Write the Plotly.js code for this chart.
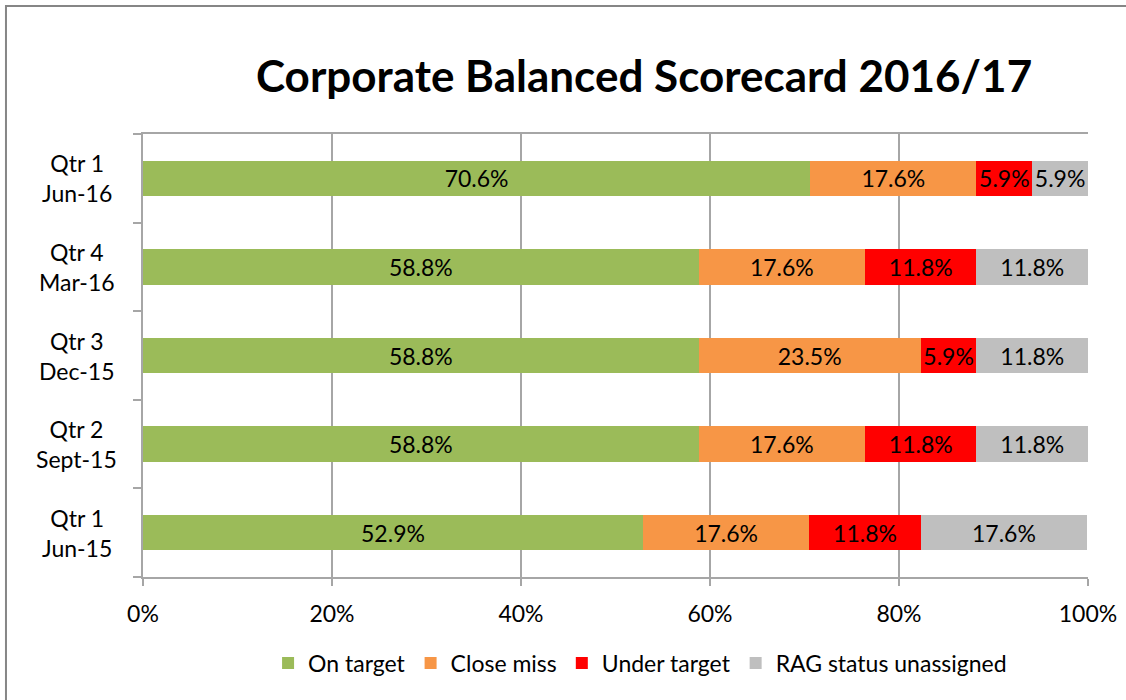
<!DOCTYPE html>
<html>
<head>
<meta charset="utf-8">
<script src="https://cdn.plot.ly/plotly-3.0.1.min.js"></script>
<style>html,body{margin:0;padding:0;background:#fff;}#chart{width:1126px;height:700px;}</style>
</head>
<body>
<div id="chart"></div>
<script>
const categories = ["Qtr 1<br>Jun-15", "Qtr 2<br>Sept-15", "Qtr 3<br>Dec-15", "Qtr 4<br>Mar-16", "Qtr 1<br>Jun-16"];
const onTarget = [52.9, 58.8, 58.8, 58.8, 70.6];
const closeMiss = [17.6, 17.6, 23.5, 17.6, 17.6];
const underTarget = [11.8, 11.8, 5.9, 11.8, 5.9];
const unassigned = [17.6, 11.8, 11.8, 11.8, 5.9];
const seriesNames = ["On target", "Close miss", "Under target", "RAG status unassigned"];
const seriesColors = ["#9BBB59", "#F79646", "#FF0000", "#BFBFBF"];
const xTicks = [0, 20, 40, 60, 80, 100];

const FONT = "Lato, 'Open Sans', sans-serif";
const FS = 23;
const seriesData = [onTarget, closeMiss, underTarget, unassigned];

const traces = seriesData.map((vals, i) => ({
  type: "bar",
  orientation: "h",
  name: seriesNames[i],
  y: categories,
  x: vals,
  marker: {color: seriesColors[i], line: {width: 0}},
  text: vals.map(v => v.toFixed(1) + "%"),
  textposition: "inside",
  insidetextanchor: "middle",
  constraintext: "none",
  textfont: {family: FONT, size: FS, color: "#000"},
  hoverinfo: "x+name"
}));

const annotations = categories.map(c => ({
  xref: "paper", yref: "y", x: -0.07, y: c,
  text: c, showarrow: false, xanchor: "center", yanchor: "middle",
  align: "center", font: {family: FONT, size: FS, color: "#000"}
}));

const layout = {
  width: 1126, height: 700,
  margin: {l: 143, r: 38, t: 134, b: 123},
  paper_bgcolor: "#fff", plot_bgcolor: "#fff",
  barmode: "stack",
  bargap: 0.6,
  font: {family: FONT, size: FS, color: "#000"},
  title: {text: "<b>Corporate Balanced Scorecard 2016/17</b>", font: {family: FONT, size: 44, color: "#000"},
          xref: "container", x: 0.572, xanchor: "center", yref: "container", y: 0.89, yanchor: "middle"},
  xaxis: {range: [0, 100], tickvals: xTicks, ticktext: xTicks.map(v => v + "%"),
          showgrid: true, gridcolor: "#A6A6A6", gridwidth: 1.5,
          showline: true, linecolor: "#A6A6A6", linewidth: 2, mirror: true,
          ticks: "outside", ticklen: 7, tickcolor: "#A6A6A6", tickwidth: 2,
          zeroline: false, fixedrange: true, tickfont: {family: FONT, size: FS}, ticklabelstandoff: 8},
  yaxis: {type: "category", categoryorder: "array", categoryarray: categories,
          showticklabels: false, showline: true, linecolor: "#A6A6A6", linewidth: 2,
          ticks: "outside", tickson: "boundaries", ticklen: 8, tickcolor: "#A6A6A6", tickwidth: 2,
          showgrid: false, fixedrange: true},
  legend: {orientation: "h", x: 0.526, xanchor: "center", y: -0.194, yanchor: "middle",
           font: {family: FONT, size: FS}, traceorder: "normal", itemwidth: 30},
  annotations: annotations,
  shapes: [{type: "rect", xref: "paper", yref: "paper", x0: -0.145, x1: 1.2, y0: -0.6, y1: 1.289,
            line: {color: "#868686", width: 2}, fillcolor: "rgba(0,0,0,0)", layer: "below"}],
  showlegend: true
};

Plotly.newPlot("chart", traces, layout, {displayModeBar: false, staticPlot: true});
</script>
</body>
</html>
